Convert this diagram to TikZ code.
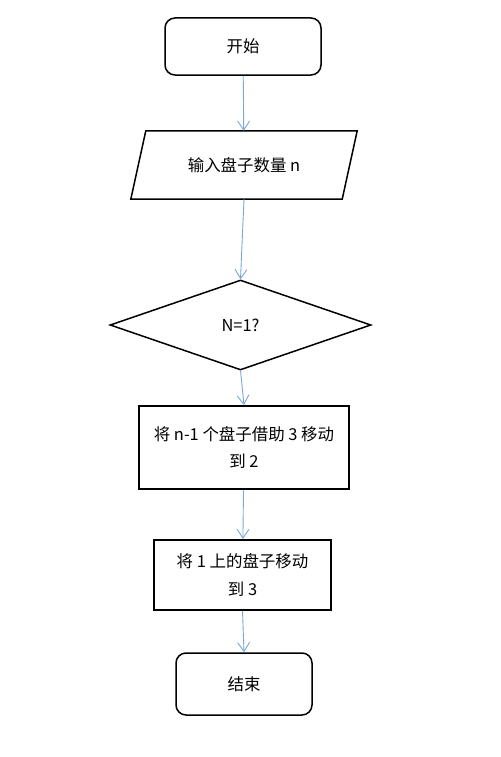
\documentclass[tikz,border=0pt]{standalone}
\usepackage{fontspec}
\setmainfont{Noto Sans CJK SC}
\usepackage{tikz}
\usetikzlibrary{arrows.meta,shapes.geometric}

\begin{document}
\begin{tikzpicture}[
  x=1bp,y=-1bp,
  font=\fontsize{16.5}{28}\selectfont,
  term/.style={rectangle,draw,line width=1.5bp,rounded corners=10bp,align=center,inner sep=0pt},
  io/.style={rectangle,inner sep=0pt},
  decision/.style={diamond,draw,line width=1.5bp,inner sep=0pt},
  proc/.style={rectangle,draw,line width=2bp,align=center,inner sep=0pt},
  arr/.style={-{Straight Barb[length=9bp,width=12bp]},draw={rgb,255:red,120;green,168;blue,216},line width=0.9bp}
]
\useasboundingbox (0,0) rectangle (501,757);
\node[term,minimum width=156bp,minimum height=57bp] (start) at (243,46.5) {开始};
\node[io,minimum width=226bp,minimum height=68bp] (input) at (244,165) {输入盘子数量 n};
\draw[line width=1.5bp,line join=miter] (input.south west) -- ([xshift=15bp]input.north west)
  -- (input.north east) -- ([xshift=-15bp]input.south east) -- cycle;
\node[decision,minimum width=261bp,minimum height=90bp] (check) at (240.5,325) {N=1?};
\node[proc,minimum width=210bp,minimum height=83bp] (move1) at (244,447.5) {将 n-1 个盘子借助 3 移动\\到 2};
\node[proc,minimum width=177bp,minimum height=70bp] (move2) at (242.5,575) {将 1 上的盘子移动\\到 3};
\node[term,minimum width=136bp,minimum height=62bp] (stop) at (244,684) {结束};

\draw[arr] (start) -- (input);
\draw[arr] (input.south) -- (check.north);
\draw[arr] (check.south) -- (move1.north);
\draw[arr] (move1) -- (move2);
\draw[arr] (move2.south) -- (stop.north);
\end{tikzpicture}
\end{document}
